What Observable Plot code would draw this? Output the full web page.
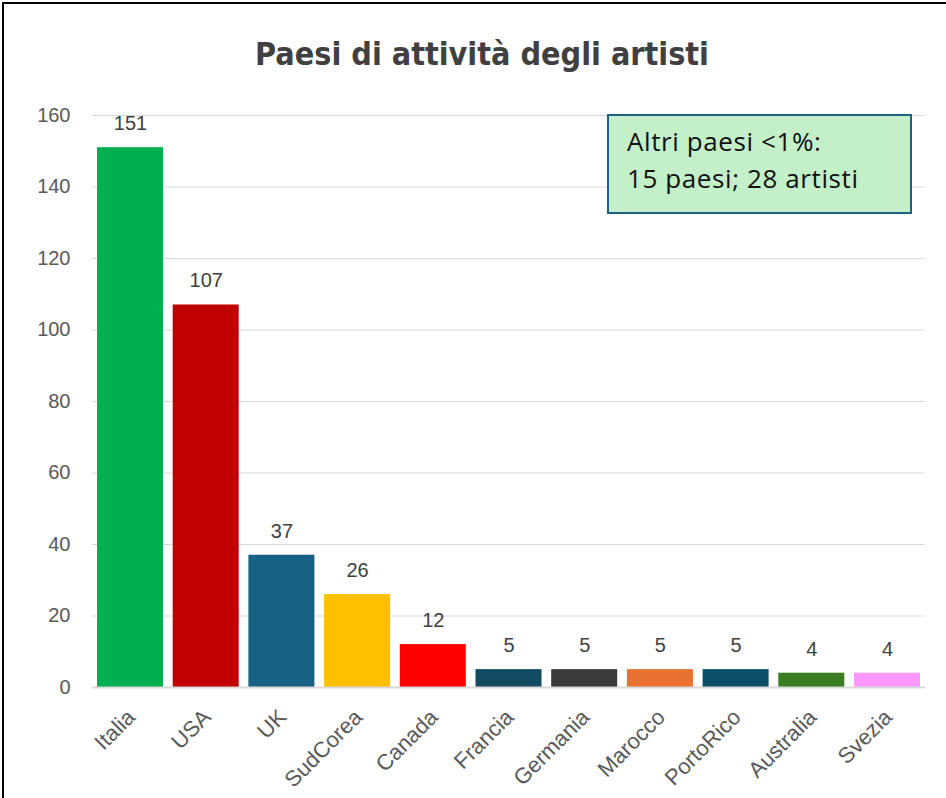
<!DOCTYPE html>
<html>
<head>
<meta charset="utf-8">
<script src="https://cdn.jsdelivr.net/npm/d3@7"></script>
<script src="https://cdn.jsdelivr.net/npm/@observablehq/plot@0.6"></script>
<style>
  html, body { margin: 0; padding: 0; background: #fff; overflow: hidden; }
  #wrap { position: relative; width: 946px; height: 798px; overflow: hidden; background: #fff; }
  #frame { position: absolute; left: 2px; top: 2px; width: 980px; height: 840px; border: 2px solid #000; box-sizing: border-box; pointer-events: none; }
  #title { position: absolute; left: 0; width: 964px; top: 35px; text-align: center;
    font-family: "DejaVu Sans Condensed", "Liberation Sans", sans-serif;
    font-weight: bold; font-size: 32px; line-height: 38px; color: #404040; }
  #note { position: absolute; left: 607px; top: 114px; width: 305px; height: 100px; box-sizing: border-box;
    background: #c3f0c8; border: 2px solid #1f6186;
    font-family: "Open Sans", "Liberation Sans", Arial, sans-serif; font-size: 26px; letter-spacing: 0.6px; color: #111; line-height: 37px;
    padding: 7px 0 0 18px; white-space: nowrap; }
  #chart { position: absolute; left: 0; top: 0; }
</style>
</head>
<body>
<div id="wrap">
  <div id="chart"></div>
  <div id="title">Paesi di attività degli artisti</div>
  <div id="note">Altri paesi &lt;1%:<br>15 paesi; 28 artisti</div>
  <div id="frame"></div>
</div>
<script>
const countries = ["Italia", "USA", "UK", "SudCorea", "Canada", "Francia", "Germania", "Marocco", "PortoRico", "Australia", "Svezia"];
const artists = [151, 107, 37, 26, 12, 5, 5, 5, 5, 4, 4];
const colors = ["#00b050", "#c00000", "#186084", "#ffc000", "#ff0000", "#124a62", "#3a3a3a", "#e97132", "#0b5068", "#3b7d23", "#ff99ff"];
const yTicks = [0, 20, 40, 60, 80, 100, 120, 140, 160];

const data = countries.map((c, i) => ({country: c, value: artists[i], color: colors[i]}));

const chart = Plot.plot({
  width: 946,
  height: 798,
  marginTop: 115,
  marginBottom: 111,
  marginLeft: 92,
  marginRight: 21,
  style: {fontFamily: "'Liberation Sans', Arial, sans-serif", fontSize: "20px", color: "#595959", background: "transparent"},
  x: {domain: countries, paddingInner: 0.128, paddingOuter: 0.066, round: false, label: null},
  y: {domain: [0, 160], label: null},
  marks: [
    Plot.gridY(yTicks, {stroke: "#d9d9d9", strokeOpacity: 1, strokeWidth: 1}),
    Plot.barY(data, {x: "country", y: "value", fill: "color"}),
    Plot.ruleY([0], {stroke: "#d9d9d9", strokeWidth: 2}),
    Plot.text(data, {x: "country", y: "value", text: d => String(d.value), dy: -24, fill: "#404040", fontSize: 20}),
    Plot.axisY(yTicks, {tickSize: 0, tickPadding: 22, fill: "#595959", fontSize: 20, label: null}),
    Plot.axisX({tickSize: 0, tickRotate: -45, tickPadding: 26, dx: 1, fill: "#595959", fontSize: 22, label: null})
  ]
});
document.getElementById("chart").appendChild(chart);
</script>
</body>
</html>
